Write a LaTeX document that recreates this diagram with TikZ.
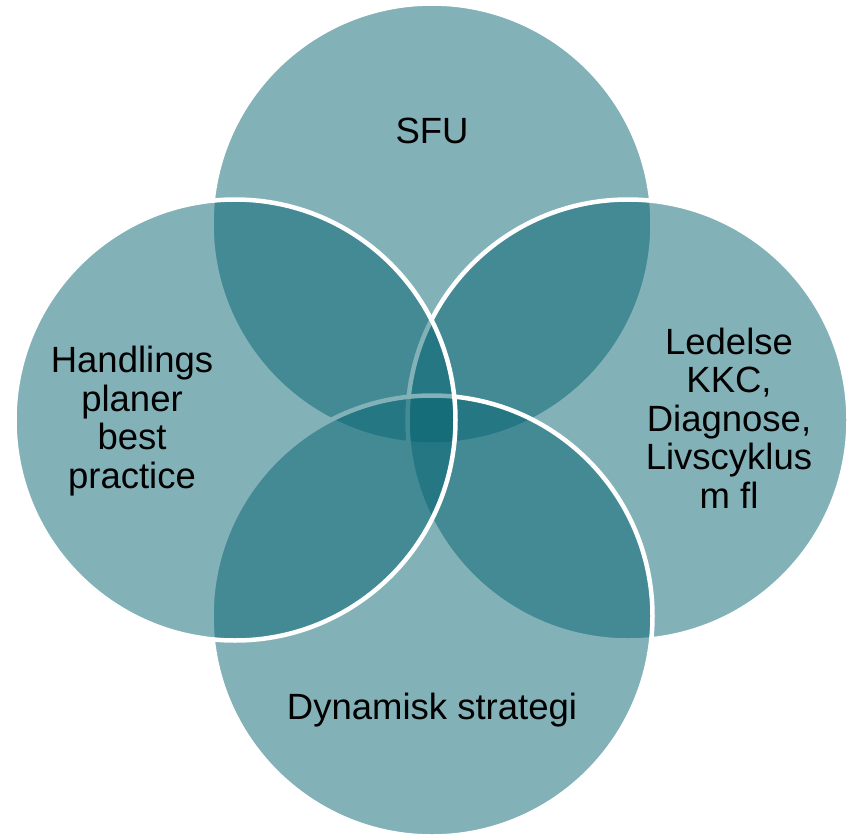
\documentclass[tikz,border=0pt]{standalone}
\usepackage{fontspec}
\setmainfont{Liberation Sans}
\definecolor{venn}{RGB}{6,100,114}

\begin{document}
\begin{tikzpicture}[x=1pt,y=-1pt,
		ring/.style={draw=white, line width=4.5pt, fill=venn, fill opacity=0.5},
		label/.style={align=center, font=\fontsize{36.5}{38.5}\selectfont, inner sep=0pt}]
		\useasboundingbox (0, 0) rectangle (854, 835);
		\coordinate (top) at (432, 224);
		\coordinate (right) at (628, 420);
		\coordinate (bottom) at (432, 616);
		\coordinate (left) at (235, 420);
		\draw[ring] (top) circle (220.5pt);
		\draw[ring] (right) circle (220.5pt);
		\draw[ring] (bottom) circle (220.5pt);
		\draw[ring] (left) circle (220.5pt);
		\node[label] (sfu) at (432, 131) {SFU};
		\node[label] (ledelse) at (729, 418) {Ledelse\\KKC,\\Diagnose,\\Livscyklus\\m fl};
		\node[label] (dynamisk) at (432, 710) {Dynamisk strategi};
		\node[label] (handlings) at (132, 421) {Handlings\\planer\\best\\practice};
	\end{tikzpicture}
\end{document}
